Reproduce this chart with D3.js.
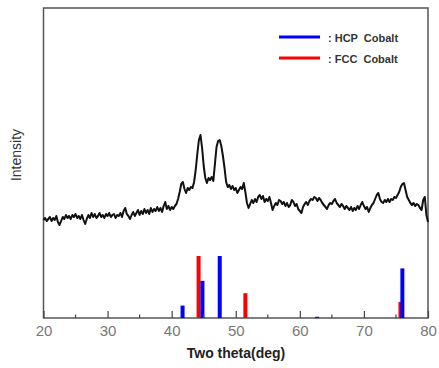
<!DOCTYPE html>
<html>
<head>
<meta charset="utf-8">
<script src="https://cdn.jsdelivr.net/npm/d3@7"></script>
<style>
  body { margin: 0; background: #fff; }
  svg { display: block; font-family: "Liberation Sans", Arial, sans-serif; }
</style>
</head>
<body>
<div id="chart"></div>
<script>
// XRD pattern, 20..80 deg, step 0.25
const thetaStart = 20;
const thetaStep = 0.25;
const intensity = [
  10, 12, 9, 11, 13, 9, 12, 10, 14, 8, 5, 9,
  13, 11, 15, 12, 14, 11, 15, 13, 16, 12, 14, 11,
  15, 10, 6, 11, 15, 12, 17, 13, 16, 12, 14, 17,
  13, 15, 12, 16, 14, 17, 13, 15, 16, 12, 15, 14,
  17, 13, 19, 22, 16, 14, 11, 15, 18, 14, 17, 20,
  15, 19, 16, 21, 17, 20, 16, 22, 18, 21, 19, 23,
  19, 22, 18, 24, 28, 21, 24, 20, 23, 21, 24, 26,
  31, 38, 46, 48, 41, 37, 42, 40, 43, 42, 48, 60,
  76, 90, 95, 82, 64, 52, 47, 52, 50, 53, 49, 66,
  83, 89, 90, 84, 74, 62, 48, 43, 45, 41, 44, 40,
  42, 37, 40, 43, 41, 47, 38, 27, 22, 26, 30, 27,
  31, 28, 33, 35, 31, 34, 28, 31, 29, 33, 27, 20,
  24, 27, 25, 30, 29, 26, 28, 24, 27, 23, 25, 30,
  28, 24, 26, 21, 19, 17, 23, 26, 28, 25, 29, 31,
  30, 33, 32, 29, 32, 30, 27, 25, 23, 21, 25, 27,
  26, 29, 31, 27, 25, 23, 26, 24, 21, 24, 22, 20,
  23, 19, 22, 20, 24, 21, 25, 28, 24, 21, 23, 18,
  22, 25, 27, 31, 35, 37, 31, 28, 27, 30, 28, 31,
  28, 31, 30, 33, 32, 35, 38, 43, 46, 47, 40, 33,
  30, 27, 25, 27, 24, 26, 25, 22, 20, 30, 33, 15,
  8
];

// reference stick patterns (relative intensity)
const hcpPos = [41.7, 44.8, 47.5, 62.7, 76.0];
const hcpInt = [20, 60, 100, 2, 80];
const fccPos = [44.2, 51.5, 75.7];
const fccInt = [100, 40, 26];

const xTicks = [20, 30, 40, 50, 60, 70, 80];
const xMinorTicks = [25, 35, 45, 55, 65, 75];

const legendItems = [
  { label: ': HCP  Cobalt', color: '#0000ff' },
  { label: ': FCC  Cobalt', color: '#ff0000' }
];

const W = 439, H = 368;
const plot = { left: 43.5, right: 428, top: 8, bottom: 318 };

const svg = d3.select('#chart').append('svg')
  .attr('width', W)
  .attr('height', H);

const x = d3.scaleLinear().domain([20, 80]).range([plot.left, plot.right]);
const y = d3.scaleLinear().domain([0, 100]).range([230, 130]);
const yStick = d3.scaleLinear().domain([0, 100]).range([plot.bottom, 256]);

const pattern = intensity.map((v, i) => ({ t: thetaStart + i * thetaStep, v: v }));

// frame
svg.append('rect')
  .attr('x', plot.left)
  .attr('y', plot.top)
  .attr('width', plot.right - plot.left)
  .attr('height', plot.bottom - plot.top)
  .attr('fill', 'none')
  .attr('stroke', '#555')
  .attr('stroke-width', 1.5);

// XRD curve
svg.append('path')
  .datum(pattern)
  .attr('fill', 'none')
  .attr('stroke', '#111')
  .attr('stroke-width', 2)
  .attr('stroke-linejoin', 'round')
  .attr('d', d3.line().x(d => x(d.t)).y(d => y(d.v)));

// sticks
const barW = 4;
svg.append('g').selectAll('rect').data(fccPos).join('rect')
  .attr('x', (d) => x(d) - barW / 2)
  .attr('y', (d, i) => yStick(fccInt[i]))
  .attr('width', barW)
  .attr('height', (d, i) => plot.bottom - yStick(fccInt[i]))
  .attr('fill', '#ff0000');

svg.append('g').selectAll('rect').data(hcpPos).join('rect')
  .attr('x', (d) => x(d) - barW / 2)
  .attr('y', (d, i) => yStick(hcpInt[i]))
  .attr('width', barW)
  .attr('height', (d, i) => Math.max(1, plot.bottom - yStick(hcpInt[i])))
  .attr('fill', '#0000ff');

// x axis: inward ticks
const axis = svg.append('g').attr('transform', `translate(0, ${plot.bottom})`);
axis.call(d3.axisBottom(x).tickValues(xTicks).tickSizeInner(-7).tickSizeOuter(0).tickPadding(7))
  .call(g => g.select('.domain').remove())
  .call(g => g.selectAll('.tick line').attr('stroke', '#444').attr('stroke-width', 1.2))
  .call(g => g.selectAll('.tick text')
    .attr('fill', '#777')
    .attr('font-size', 15)
    .attr('font-family', '"Liberation Sans", Arial, sans-serif'));
axis.selectAll('.minor').data(xMinorTicks).join('line')
  .attr('class', 'minor')
  .attr('x1', d => x(d)).attr('x2', d => x(d))
  .attr('y1', 0).attr('y2', -3.5)
  .attr('stroke', '#444')
  .attr('stroke-width', 1.2);

// axis titles
svg.append('text')
  .attr('x', 236)
  .attr('y', 358)
  .attr('text-anchor', 'middle')
  .attr('font-size', 14)
  .attr('font-weight', 'bold')
  .attr('fill', '#222')
  .text('Two theta(deg)');

svg.append('text')
  .attr('transform', 'translate(21, 155) rotate(-90)')
  .attr('text-anchor', 'middle')
  .attr('font-size', 14)
  .attr('fill', '#333')
  .text('Intensity');

// legend
const legend = svg.append('g').attr('transform', 'translate(279, 37)');
legendItems.forEach((item, i) => {
  const g = legend.append('g').attr('transform', `translate(0, ${i * 21})`);
  g.append('line')
    .attr('x1', 0).attr('x2', 41)
    .attr('y1', 0).attr('y2', 0)
    .attr('stroke', item.color)
    .attr('stroke-width', 3);
  g.append('text')
    .attr('x', 49)
    .attr('y', 5)
    .attr('font-size', 11)
    .attr('font-weight', 'bold')
    .attr('fill', '#333')
    .attr('xml:space', 'preserve')
    .style('white-space', 'pre')
    .text(item.label);
});
</script>
</body>
</html>
